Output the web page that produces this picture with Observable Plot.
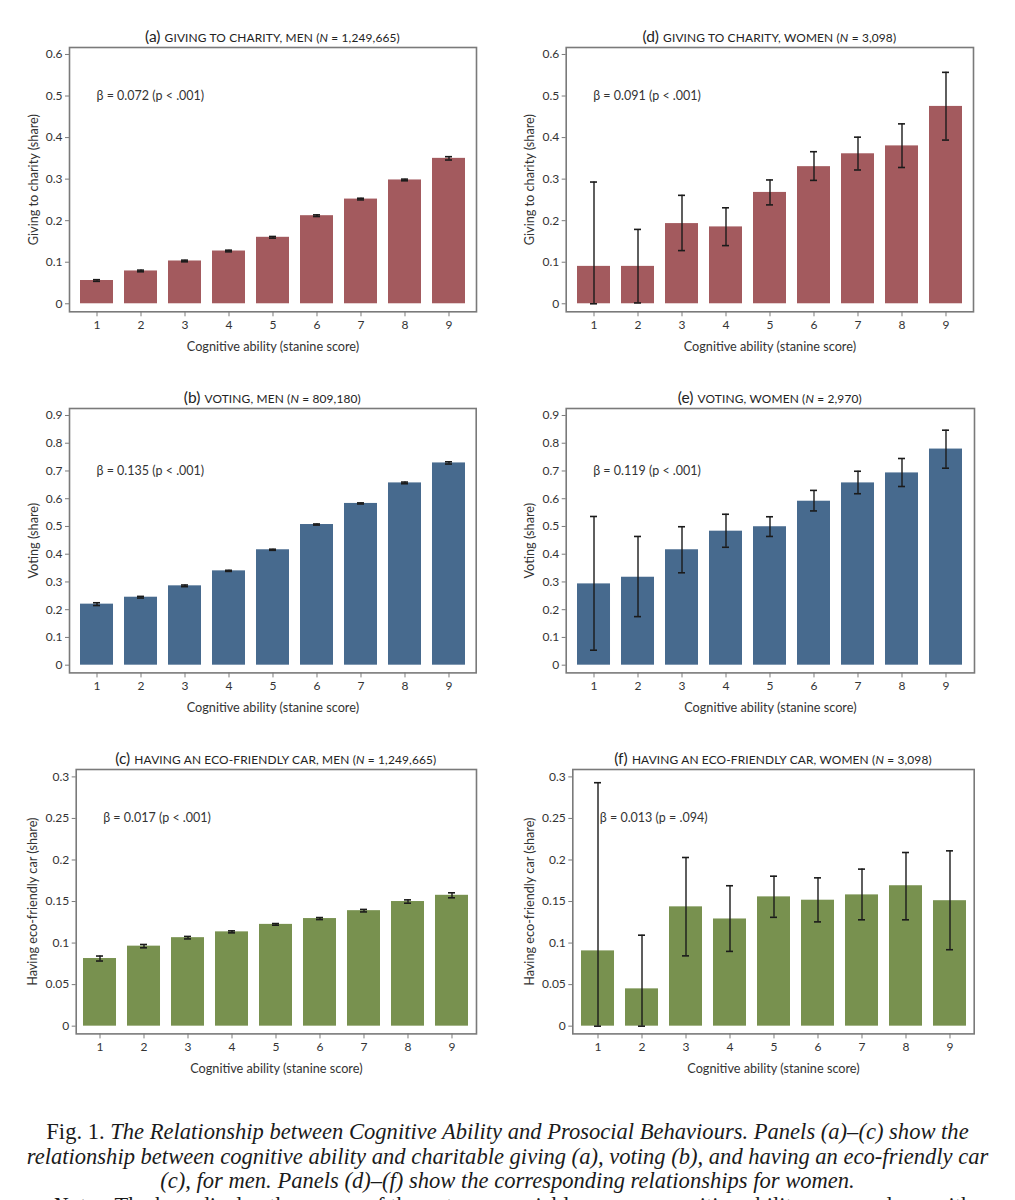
<!DOCTYPE html>
<html>
<head>
<meta charset="utf-8">
<script src="https://cdn.jsdelivr.net/npm/d3@7"></script>
<script src="https://cdn.jsdelivr.net/npm/@observablehq/plot@0.6"></script>
<style>
  html, body { margin: 0; padding: 0; background: #fff; }
  body { width: 1015px; height: 1200px; overflow: hidden; position: relative; font-family: Lato, "Open Sans", sans-serif; }
  .panel { position: absolute; }
  .title { position: absolute; white-space: nowrap; color: #222; transform: translateX(-50%); line-height: 16px; }
  .title .lab { font-size: 15.5px; }
  .title .txt { font-size: 11.9px; letter-spacing: 0.15px; }
  .caption { position: absolute; left: 0; top: 1119px; width: 1015px; text-align: center; font-family: "Liberation Serif", "DejaVu Serif", serif; font-size: 23.5px; line-height: 24.5px; color: #1a1a1a; white-space: nowrap; transform: scaleX(0.96); transform-origin: 507.5px 0; }
  .caption i { font-style: italic; }
</style>
</head>
<body>
<div id="root"></div>
<div class="caption">
  Fig. 1. <i>The Relationship between Cognitive Ability and Prosocial Behaviours. Panels (a)–(c) show the</i><br>
  <i>relationship between cognitive ability and charitable giving (a), voting (b), and having an eco-friendly car</i><br>
  <i>(c), for men. Panels (d)–(f) show the corresponding relationships for women.</i><br>
  <span style="padding-left:10px"><i>Notes.</i> The bars display the means of the outcome variables across cognitive ability scores, along with</span>
</div>
<script>
// ---------- data ----------
const scores = [1, 2, 3, 4, 5, 6, 7, 8, 9];

// (a) Giving to charity, men
const charityMen   = [0.056, 0.079, 0.103, 0.127, 0.160, 0.212, 0.252, 0.298, 0.350];
const charityMenLo = [0.054, 0.077, 0.101, 0.125, 0.158, 0.210, 0.250, 0.296, 0.346];
const charityMenHi = [0.058, 0.081, 0.105, 0.129, 0.162, 0.214, 0.254, 0.300, 0.354];

// (d) Giving to charity, women
const charityWomen   = [0.090, 0.090, 0.193, 0.185, 0.268, 0.330, 0.361, 0.380, 0.475];
const charityWomenLo = [0.000, 0.002, 0.128, 0.140, 0.238, 0.297, 0.322, 0.328, 0.394];
const charityWomenHi = [0.293, 0.179, 0.261, 0.231, 0.298, 0.366, 0.401, 0.433, 0.557];

// (b) Voting, men
const votingMen   = [0.220, 0.245, 0.286, 0.340, 0.416, 0.507, 0.583, 0.657, 0.729];
const votingMenLo = [0.215, 0.242, 0.283, 0.338, 0.414, 0.505, 0.581, 0.654, 0.725];
const votingMenHi = [0.225, 0.248, 0.289, 0.342, 0.418, 0.509, 0.585, 0.660, 0.733];

// (e) Voting, women
const votingWomen   = [0.293, 0.317, 0.416, 0.483, 0.499, 0.591, 0.657, 0.693, 0.779];
const votingWomenLo = [0.054, 0.175, 0.333, 0.425, 0.464, 0.556, 0.618, 0.644, 0.710];
const votingWomenHi = [0.536, 0.464, 0.499, 0.544, 0.535, 0.630, 0.699, 0.745, 0.847];

// (c) Eco-friendly car, men
const carMen   = [0.0814, 0.0963, 0.1065, 0.1135, 0.1225, 0.1295, 0.139, 0.150, 0.1575];
const carMenLo = [0.0784, 0.0943, 0.1050, 0.1123, 0.1215, 0.1283, 0.1375, 0.148, 0.1545];
const carMenHi = [0.0844, 0.0983, 0.1080, 0.1147, 0.1235, 0.1307, 0.1405, 0.152, 0.1605];

// (f) Eco-friendly car, women
const carWomen   = [0.0906, 0.0449, 0.1436, 0.129, 0.1556, 0.1516, 0.158, 0.169, 0.151];
const carWomenLo = [0.000, 0.000, 0.0846, 0.090, 0.131, 0.1255, 0.128, 0.128, 0.092];
const carWomenHi = [0.293, 0.1095, 0.203, 0.169, 0.1805, 0.1785, 0.189, 0.209, 0.211];

// tick labels
const ticksCharity = [0, 0.1, 0.2, 0.3, 0.4, 0.5, 0.6];
const ticksVoting  = [0, 0.1, 0.2, 0.3, 0.4, 0.5, 0.6, 0.7, 0.8, 0.9];
const ticksCar     = [0, 0.05, 0.1, 0.15, 0.2, 0.25, 0.3];

// ---------- layout / style ----------
const RED = "#a35a5e", BLUE = "#476a8e", GREEN = "#78914f";
const panels = [
  {lab: "(a)", txt: "GIVING TO CHARITY, MEN (", n: "= 1,249,665)", v: charityMen, lo: charityMenLo, hi: charityMenHi, color: RED,
   yLabel: "Giving to charity (share)", ticks: ticksCharity, domain: [-0.0193, 0.6168], beta: ["β = 0.072 (", "p", " < .001)"], betaY: 0.5,
   L: 69, R: 476, T: 46.7, B: 311, col: 0, lblOff: 41},
  {lab: "(d)", txt: "GIVING TO CHARITY, WOMEN (", n: "= 3,098)", v: charityWomen, lo: charityWomenLo, hi: charityWomenHi, color: RED,
   yLabel: "Giving to charity (share)", ticks: ticksCharity, domain: [-0.0193, 0.6168], beta: ["β = 0.091 (", "p", " < .001)"], betaY: 0.5,
   L: 565.7, R: 973, T: 46.7, B: 311, col: 1, lblOff: 41},
  {lab: "(b)", txt: "VOTING, MEN (", n: "= 809,180)", v: votingMen, lo: votingMenLo, hi: votingMenHi, color: BLUE,
   yLabel: "Voting (share)", ticks: ticksVoting, domain: [-0.0278, 0.9252], beta: ["β = 0.135 (", "p", " < .001)"], betaY: 0.7,
   L: 69, R: 475.7, T: 408.3, B: 672.7, col: 0, lblOff: 41},
  {lab: "(e)", txt: "VOTING, WOMEN (", n: "= 2,970)", v: votingWomen, lo: votingWomenLo, hi: votingWomenHi, color: BLUE,
   yLabel: "Voting (share)", ticks: ticksVoting, domain: [-0.0278, 0.9252], beta: ["β = 0.119 (", "p", " < .001)"], betaY: 0.7,
   L: 565.7, R: 974, T: 408.3, B: 672.7, col: 1, lblOff: 41},
  {lab: "(c)", txt: "HAVING AN ECO-FRIENDLY CAR, MEN (", n: "= 1,249,665)", v: carMen, lo: carMenLo, hi: carMenHi, color: GREEN,
   yLabel: "Having eco-friendly car (share)", ticks: ticksCar, domain: [-0.0093, 0.3089], beta: ["β = 0.017 (", "p", " < .001)"], betaY: 0.25,
   L: 75.7, R: 476, T: 769.3, B: 1033.7, col: 0, lblOff: 48},
  {lab: "(f)", txt: "HAVING AN ECO-FRIENDLY CAR, WOMEN (", n: "= 3,098)", v: carWomen, lo: carWomenLo, hi: carWomenHi, color: GREEN,
   yLabel: "Having eco-friendly car (share)", ticks: ticksCar, domain: [-0.0093, 0.3089], beta: ["β = 0.013 (", "p", " = .094)"], betaY: 0.25,
   L: 572.3, R: 973.7, T: 769.3, B: 1033.7, col: 1, lblOff: 48},
];

const root = document.getElementById("root");
const fmt = d => String(+d.toFixed(2));

for (const p of panels) {
  const data = scores.map((s, i) => ({score: s, value: p.v[i], lo: p.lo[i], hi: p.hi[i]}));
  const svgLeft = p.col === 0 ? 0 : 500;
  const W = 505;
  const mTop = 8, mBottom = 46;
  const H = mTop + (p.B - p.T) + mBottom;
  const chart = Plot.plot({
    width: W,
    height: H,
    marginLeft: p.L - svgLeft,
    marginRight: svgLeft + W - p.R,
    marginTop: mTop,
    marginBottom: mBottom,
    style: {fontFamily: "Lato, 'Open Sans', sans-serif", fontSize: "12px", color: "#333", background: "transparent"},
    x: {type: "band", domain: scores, paddingInner: 0.25, paddingOuter: 0.17},
    y: {domain: p.domain},
    marks: [
      Plot.barY(data, {x: "score", y: "value", fill: p.color}),
      Plot.ruleX(data, {x: "score", y1: "lo", y2: "hi", stroke: "#1b1b1b", strokeWidth: 1.4}),
      Plot.tickY(data, {x: "score", y: "lo", stroke: "#1b1b1b", strokeWidth: 1.6, insetLeft: 13, insetRight: 13}),
      Plot.tickY(data, {x: "score", y: "hi", stroke: "#1b1b1b", strokeWidth: 1.6, insetLeft: 13, insetRight: 13}),
      Plot.frame({stroke: "#7a7a7a", strokeWidth: 1.6}),
      Plot.axisY({ticks: p.ticks, tickFormat: fmt, tickSize: 4, tickPadding: 3, stroke: "#7a7a7a", fill: "#333", fontSize: 12,
        label: p.yLabel, labelAnchor: "center", labelArrow: "none", labelOffset: p.lblOff}),
      Plot.axisX({tickSize: 5, tickPadding: 4, stroke: "#7a7a7a", fill: "#333", fontSize: 12,
        label: "Cognitive ability (stanine score)", labelAnchor: "center", labelArrow: "none", labelOffset: 39}),
      Plot.text([p.beta.join("")], {y: [p.betaY], frameAnchor: "left", dx: 27, textAnchor: "start", fill: "#333", fontSize: 12.5, ariaLabel: "beta"})
    ]
  });
  chart.querySelectorAll("g[aria-label='x-axis label'] text, g[aria-label='y-axis label'] text").forEach(t => {
    t.setAttribute("font-size", "12.7"); t.style.fontSize = "12.7px"; t.setAttribute("fill", "#333");
  });
  chart.querySelectorAll("g[aria-label='beta'] text").forEach(t => {
    t.textContent = "";
    p.beta.forEach((s, i) => {
      const ts = document.createElementNS("http://www.w3.org/2000/svg", "tspan");
      ts.textContent = s;
      if (i === 1) ts.setAttribute("font-style", "italic");
      t.appendChild(ts);
    });
  });
  const div = document.createElement("div");
  div.className = "panel";
  div.style.left = svgLeft + "px";
  div.style.top = (p.T - mTop) + "px";
  div.appendChild(chart);
  root.appendChild(div);

  const title = document.createElement("div");
  title.className = "title";
  title.style.left = ((p.L + p.R) / 2) + "px";
  title.style.top = (p.T - 19) + "px";
  title.innerHTML = `<span class="lab">${p.lab}</span> <span class="txt">${p.txt}<i>N</i> ${p.n}</span>`;
  root.appendChild(title);
}
</script>
</body>
</html>
